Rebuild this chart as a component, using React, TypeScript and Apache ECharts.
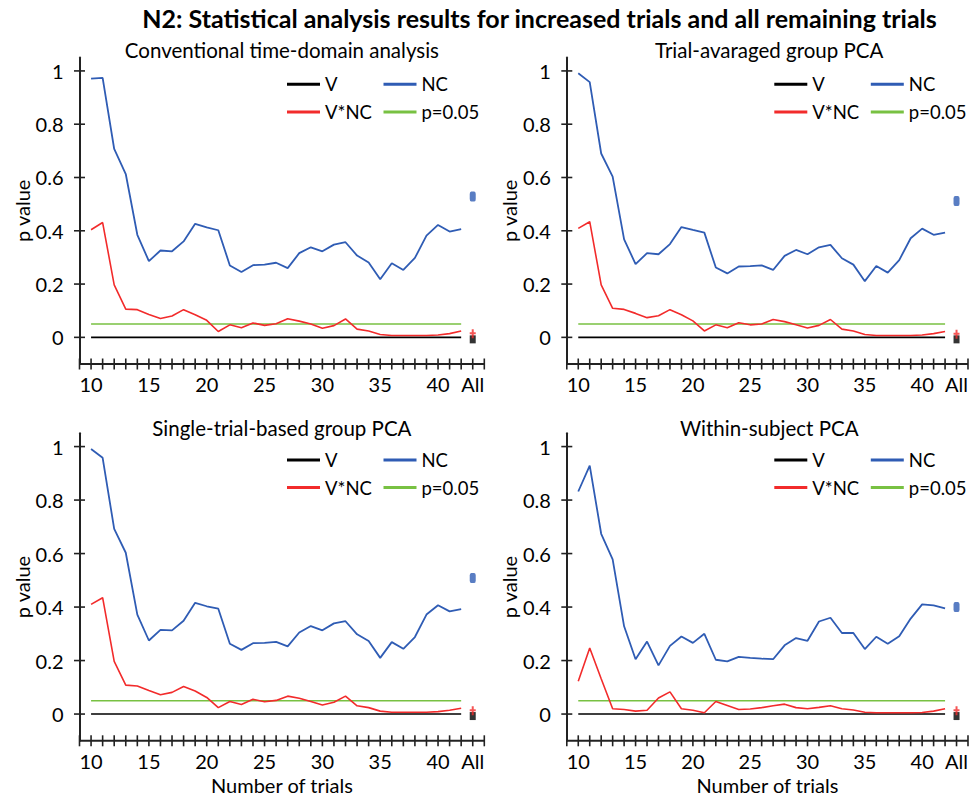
import { useRef, useEffect } from "react";
import * as echarts from "echarts";

const TRIALS = [10, 11, 12, 13, 14, 15, 16, 17, 18, 19, 20, 21, 22, 23, 24, 25, 26, 27, 28, 29, 30, 31, 32, 33, 34, 35, 36, 37, 38, 39, 40, 41, 42];
const ALL_POS = 43;
const THRESHOLD = 0.05;

const X_MIN = 9;
const X_MAX = 44;
const Y_MIN = -0.1;
const Y_MAX = 1.05;

const PANEL_TITLES = [
  "Conventional time-domain analysis",
  "Trial-avaraged group PCA",
  "Single-trial-based group PCA",
  "Within-subject PCA",
];

const V_TL = [0, 0, 0, 0, 0, 0, 0, 0, 0, 0, 0, 0, 0, 0, 0, 0, 0, 0, 0, 0, 0, 0, 0, 0, 0, 0, 0, 0, 0, 0, 0, 0, 0];
const V_TR = [0, 0, 0, 0, 0, 0, 0, 0, 0, 0, 0, 0, 0, 0, 0, 0, 0, 0, 0, 0, 0, 0, 0, 0, 0, 0, 0, 0, 0, 0, 0, 0, 0];
const V_BL = [0, 0, 0, 0, 0, 0, 0, 0, 0, 0, 0, 0, 0, 0, 0, 0, 0, 0, 0, 0, 0, 0, 0, 0, 0, 0, 0, 0, 0, 0, 0, 0, 0];
const V_BR = [0, 0, 0, 0, 0, 0, 0, 0, 0, 0, 0, 0, 0, 0, 0, 0, 0, 0, 0, 0, 0, 0, 0, 0, 0, 0, 0, 0, 0, 0, 0, 0, 0];

const NC_TL = [0.971, 0.974, 0.707, 0.613, 0.385, 0.286, 0.326, 0.323, 0.36, 0.426, 0.413, 0.402, 0.27, 0.245, 0.271, 0.273, 0.28, 0.26, 0.316, 0.338, 0.323, 0.348, 0.357, 0.307, 0.281, 0.218, 0.278, 0.253, 0.298, 0.382, 0.422, 0.397, 0.406];
const VNC_TL = [0.404, 0.431, 0.197, 0.106, 0.104, 0.086, 0.071, 0.08, 0.104, 0.085, 0.064, 0.022, 0.047, 0.036, 0.054, 0.045, 0.051, 0.07, 0.061, 0.05, 0.034, 0.044, 0.069, 0.031, 0.024, 0.011, 0.007, 0.007, 0.007, 0.007, 0.009, 0.014, 0.024];

const NC_TR = [0.991, 0.958, 0.69, 0.603, 0.368, 0.275, 0.316, 0.312, 0.35, 0.414, 0.403, 0.393, 0.262, 0.24, 0.266, 0.267, 0.27, 0.253, 0.306, 0.328, 0.312, 0.338, 0.347, 0.297, 0.273, 0.211, 0.268, 0.243, 0.29, 0.372, 0.408, 0.385, 0.393];
const VNC_TR = [0.409, 0.434, 0.197, 0.109, 0.105, 0.09, 0.074, 0.081, 0.104, 0.085, 0.062, 0.024, 0.047, 0.036, 0.055, 0.047, 0.05, 0.067, 0.059, 0.047, 0.035, 0.045, 0.067, 0.031, 0.024, 0.011, 0.007, 0.007, 0.007, 0.007, 0.009, 0.014, 0.022];

const NC_BL = [0.991, 0.958, 0.692, 0.603, 0.372, 0.275, 0.315, 0.313, 0.349, 0.416, 0.403, 0.394, 0.263, 0.24, 0.265, 0.266, 0.27, 0.253, 0.305, 0.329, 0.313, 0.339, 0.347, 0.298, 0.273, 0.21, 0.269, 0.244, 0.288, 0.372, 0.407, 0.384, 0.392];
const VNC_BL = [0.41, 0.435, 0.197, 0.108, 0.105, 0.088, 0.072, 0.081, 0.103, 0.086, 0.062, 0.024, 0.047, 0.036, 0.055, 0.046, 0.051, 0.067, 0.059, 0.047, 0.034, 0.044, 0.067, 0.031, 0.024, 0.011, 0.007, 0.007, 0.007, 0.007, 0.009, 0.014, 0.022];

const NC_BR = [0.832, 0.929, 0.674, 0.578, 0.328, 0.205, 0.271, 0.182, 0.255, 0.29, 0.266, 0.3, 0.203, 0.197, 0.214, 0.21, 0.207, 0.205, 0.257, 0.284, 0.274, 0.346, 0.36, 0.303, 0.303, 0.243, 0.289, 0.263, 0.291, 0.357, 0.41, 0.406, 0.395];
const VNC_BR = [0.123, 0.247, 0.132, 0.02, 0.017, 0.011, 0.014, 0.06, 0.083, 0.02, 0.014, 0.005, 0.047, 0.032, 0.017, 0.019, 0.024, 0.031, 0.037, 0.024, 0.02, 0.025, 0.031, 0.02, 0.015, 0.007, 0.005, 0.005, 0.005, 0.005, 0.006, 0.011, 0.02];

// "All" trials results per panel (TL, TR, BL, BR)
const V_ALL = [0, 0, 0, 0];
const NC_ALL = [0.529, 0.512, 0.509, 0.4];
const VNC_ALL = [0.014, 0.012, 0.012, 0.012];

const Y_TICKS = [0, 0.2, 0.4, 0.6, 0.8, 1];
const X_TICKS = [9, 10, 11, 12, 13, 14, 15, 16, 17, 18, 19, 20, 21, 22, 23, 24, 25, 26, 27, 28, 29, 30, 31, 32, 33, 34, 35, 36, 37, 38, 39, 40, 41, 42, 43, 44];
const X_LABELS = [10, 15, 20, 25, 30, 35, 40, 43];

const V_SERIES = [V_TL, V_TR, V_BL, V_BR];
const NC_SERIES = [NC_TL, NC_TR, NC_BL, NC_BR];
const VNC_SERIES = [VNC_TL, VNC_TR, VNC_BL, VNC_BR];

const BLACK = "#000000";
const AXIS = "#222222";
const BLUE = "#2f5cb4";
const RED = "#f22b2b";
const GREEN = "#78c142";
const FONT = "Lato, 'Open Sans', sans-serif";
const TICK_HALF = 5.5;

// grid boxes in px
const PANELS = [
  { left: 79.5, top: 57.6, width: 404.8, height: 306.4, titleTop: 38, showX: false },
  { left: 566.8, top: 57.6, width: 404.8, height: 306.4, titleTop: 38, showX: false },
  { left: 79.5, top: 433.2, width: 404.8, height: 307.6, titleTop: 416, showX: true },
  { left: 566.8, top: 433.2, width: 404.8, height: 307.6, titleTop: 416, showX: true },
];

const pairs = (ys: number[]) => TRIALS.map((t, i) => [t, ys[i]]);
const tickLabel = (v: number) => (X_LABELS.includes(v) ? (v === ALL_POS ? "All" : String(v)) : "");

// tick marks that cross the axis line, placed through the axis scale
const crossTick = (vertical: boolean) => (_params: any, api: any) => {
  const p = api.coord([api.value(0), api.value(1)]);
  const shape = vertical
    ? { x1: p[0], y1: p[1] - TICK_HALF, x2: p[0], y2: p[1] + TICK_HALF }
    : { x1: p[0] - TICK_HALF, y1: p[1], x2: p[0] + TICK_HALF, y2: p[1] };
  return { type: "line", shape, style: { stroke: AXIS, lineWidth: 1.6 } };
};

export default function App() {
  const ref = useRef<HTMLDivElement>(null);

  useEffect(() => {
    if (!ref.current) return;
    const chart = echarts.init(ref.current, undefined, { renderer: "svg" });

    const grid: any[] = [];
    const xAxis: any[] = [];
    const yAxis: any[] = [];
    const series: any[] = [];
    const legend: any[] = [];
    const title: any[] = [
      {
        text: "N2: Statistical analysis results for increased trials and all remaining trials",
        left: 539.5,
        top: 3,
        padding: 0,
        textAlign: "center",
        textStyle: { fontSize: 25, fontWeight: "bold", color: BLACK, fontFamily: FONT, lineHeight: 30 },
      },
    ];

    PANELS.forEach((p, g) => {
      grid.push({ left: p.left, top: p.top, width: p.width, height: p.height });

      title.push({
        text: PANEL_TITLES[g],
        left: p.left + p.width / 2,
        top: p.titleTop,
        padding: 0,
        textAlign: "center",
        textStyle: { fontSize: 20.5, fontWeight: "normal", color: BLACK, fontFamily: FONT, lineHeight: 24 },
      });

      xAxis.push({
        type: "value",
        gridIndex: g,
        position: "bottom",
        min: X_MIN,
        max: X_MAX,
        interval: 1,
        splitLine: { show: false },
        axisLine: { show: false, onZero: false },
        axisTick: { show: false },
        axisLabel: {
          show: true,
          margin: 10,
          fontSize: 20,
          color: BLACK,
          fontFamily: FONT,
          formatter: tickLabel,
        },
        name: p.showX ? "Number of trials" : "",
        nameLocation: "middle",
        nameGap: 34,
        nameTextStyle: { fontSize: 20, color: BLACK, fontFamily: FONT },
      });

      yAxis.push({
        type: "value",
        gridIndex: g,
        position: "left",
        min: Y_MIN,
        max: Y_MAX,
        splitLine: { show: false },
        axisLine: { show: true, onZero: false, lineStyle: { color: AXIS, width: 2 } },
        axisTick: { show: false },
        axisLabel: {
          show: true,
          customValues: Y_TICKS,
          margin: 16,
          fontSize: 20,
          color: BLACK,
          fontFamily: FONT,
          formatter: (v: number) => String(+v.toFixed(1)),
        },
        name: "p value",
        nameLocation: "middle",
        nameGap: 45,
        nameRotate: 90,
        nameTextStyle: { fontSize: 20, color: BLACK, fontFamily: FONT },
      });

      const ax = { xAxisIndex: g, yAxisIndex: g };
      series.push(
        {
          name: "x axis line",
          type: "line",
          ...ax,
          data: [
            [X_MIN, Y_MIN],
            [X_MAX, Y_MIN],
          ],
          clip: false,
          silent: true,
          symbol: "none",
          lineStyle: { color: AXIS, width: 2 },
          z: 4,
        },
        {
          name: "x ticks",
          type: "custom",
          ...ax,
          data: X_TICKS.map((t) => [t, Y_MIN]),
          renderItem: crossTick(true),
          clip: false,
          silent: true,
          z: 4,
        },
        {
          name: "y ticks",
          type: "custom",
          ...ax,
          data: Y_TICKS.map((v) => [X_MIN, v]),
          renderItem: crossTick(false),
          clip: false,
          silent: true,
          z: 4,
        },
        {
          name: "V",
          type: "line",
          ...ax,
          data: pairs(V_SERIES[g]),
          symbol: "none",
          lineStyle: { color: BLACK, width: 1.6 },
          itemStyle: { color: BLACK },
        },
        {
          name: "p=0.05",
          type: "line",
          ...ax,
          data: [
            [TRIALS[0], THRESHOLD],
            [TRIALS[TRIALS.length - 1], THRESHOLD],
          ],
          symbol: "none",
          lineStyle: { color: GREEN, width: 1.6 },
          itemStyle: { color: GREEN },
        },
        {
          name: "V*NC",
          type: "line",
          ...ax,
          data: pairs(VNC_SERIES[g]),
          symbol: "none",
          lineStyle: { color: RED, width: 1.6 },
          itemStyle: { color: RED },
        },
        {
          name: "NC",
          type: "line",
          ...ax,
          data: pairs(NC_SERIES[g]),
          symbol: "none",
          lineStyle: { color: BLUE, width: 1.8 },
          itemStyle: { color: BLUE },
        },
        {
          name: "V all",
          type: "scatter",
          ...ax,
          data: [[ALL_POS, V_ALL[g]]],
          symbol: "rect",
          symbolSize: [6, 8],
          symbolOffset: [0, 2],
          itemStyle: { color: BLACK },
        },
        {
          name: "V*NC all",
          type: "scatter",
          ...ax,
          data: [[ALL_POS, VNC_ALL[g]]],
          symbol: "path://M2,0 H4 V3 H6 V5 H4 V9 H2 V5 H0 V3 H2 Z",
          symbolSize: [6, 9],
          itemStyle: { color: RED },
        },
        {
          name: "NC all",
          type: "scatter",
          ...ax,
          data: [[ALL_POS, NC_ALL[g]]],
          symbol: "roundRect",
          symbolSize: [6, 10],
          itemStyle: { color: BLUE },
        }
      );

      const rowTop = [p.top + 16.7, p.top + 44.4];
      const col = [p.left + 207.5, p.left + 304];
      const items = [
        { name: "V", left: col[0], top: rowTop[0] },
        { name: "NC", left: col[1], top: rowTop[0] },
        { name: "V*NC", left: col[0], top: rowTop[1] },
        { name: "p=0.05", left: col[1], top: rowTop[1] },
      ];
      items.forEach((it) => {
        legend.push({
          data: [it.name],
          left: it.left,
          top: it.top,
          padding: 0,
          icon: "rect",
          itemWidth: 33,
          itemHeight: 3,
          selectedMode: false,
          textStyle: { fontSize: 18.5, color: BLACK, fontFamily: FONT, lineHeight: 20 },
        });
      });
    });

    chart.setOption({
      animation: false,
      backgroundColor: "#ffffff",
      textStyle: { fontFamily: FONT },
      title,
      legend,
      grid,
      xAxis,
      yAxis,
      series,
    });

    return () => {
      chart.dispose();
    };
  }, []);

  return <div ref={ref} style={{ position: "fixed", left: 0, top: 0, width: 971, height: 801 }} />;
}
